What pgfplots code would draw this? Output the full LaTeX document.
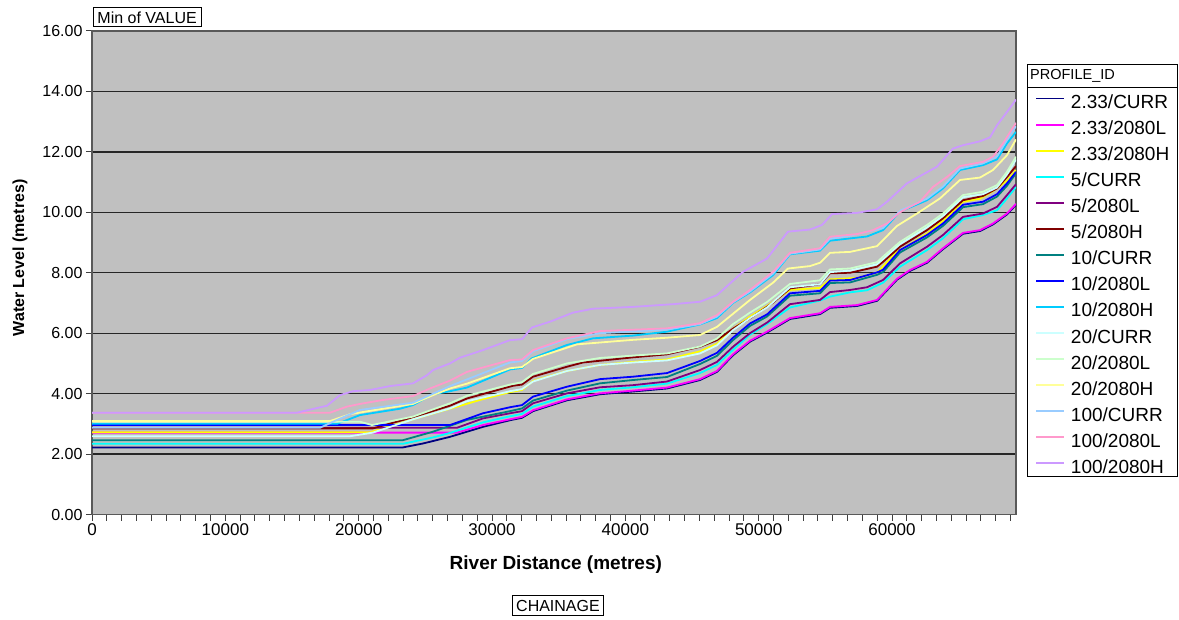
\documentclass[border=0pt]{standalone}
\usepackage{fontspec}
\setmainfont{Liberation Sans}
\usepackage{pgfplots}
\pgfplotsset{compat=1.18}
\definecolor{bg}{HTML}{C0C0C0}
\definecolor{cA}{HTML}{000080}
\definecolor{cB}{HTML}{FF00FF}
\definecolor{cC}{HTML}{FFFF00}
\definecolor{cD}{HTML}{00FFFF}
\definecolor{cE}{HTML}{800080}
\definecolor{cF}{HTML}{800000}
\definecolor{cG}{HTML}{008080}
\definecolor{cH}{HTML}{0000FF}
\definecolor{cI}{HTML}{00CCFF}
\definecolor{cJ}{HTML}{CCFFFF}
\definecolor{cK}{HTML}{CCFFCC}
\definecolor{cL}{HTML}{FFFF99}
\definecolor{cM}{HTML}{99CCFF}
\definecolor{cN}{HTML}{FF99CC}
\definecolor{cO}{HTML}{CC99FF}
\begin{document}
\begin{tikzpicture}[x=1pt,y=1pt]
\path[use as bounding box] (0,0) rectangle (1179,619);
\begin{axis}[
  scale only axis, width=924pt, height=483.5pt,
  at={(92pt,104.5pt)}, anchor=south west,
  xmin=0, xmax=69300, ymin=0, ymax=16,
  axis background/.style={fill=bg},
  axis line style={draw=black!65, line width=1.2pt},
  ytick={0,2,...,16}, ymajorgrids,
  grid style={black!85, line width=1.3pt},
  xtick={0,10000,20000,30000,40000,50000,60000},
  minor xtick={0,1111.11,...,69300},
  scaled x ticks=false,
  tick align=outside, tick pos=left,
  major tick length=6pt, minor tick length=6pt,
  tick style={black!75, line width=1pt},
  /pgf/number format/assume math mode=true,
  /pgf/number format/1000 sep={},
  yticklabel style={font=\fontsize{16}{19}\selectfont, /pgf/number format/.cd, fixed, fixed zerofill, precision=2},
  xticklabel style={font=\fontsize{17}{20}\selectfont, /pgf/number format/.cd, fixed, precision=0, 1000 sep={}},
  xlabel={River Distance (metres)},
  ylabel={Water Level (metres)},
  xlabel style={at={(axis description cs:0.502,-0.1044)}, anchor=center, font=\bfseries\fontsize{19}{22}\selectfont},
  ylabel style={at={(axis description cs:-0.0779,0.5305)}, anchor=center, rotate=0, font=\bfseries\fontsize{16}{19}\selectfont},
  every axis plot/.append style={line width=1.8pt, line join=round},
  no markers,
  legend image code/.code={\draw[#1] (0pt,5pt) -- (28pt,5pt);},
  legend style={at={(axis description cs:1.02056,0.8689)}, anchor=north west,
    draw=none, fill=none, inner xsep=0pt, inner ysep=0pt, row sep=8.05pt, column sep=6pt,
    font=\fontsize{19}{22}\selectfont,
    nodes={inner sep=0pt, text height=14pt, text depth=4pt}},
  legend cell align=left,
]
\addplot[cA] coordinates {(0,2.22) (23325,2.22) (24825,2.35) (26850,2.57) (29325,2.90) (31350,3.12) (32250,3.20) (33075,3.42) (35625,3.78) (38100,3.98) (40575,4.07) (43125,4.17) (45600,4.45) (46875,4.72) (48075,5.27) (49350,5.72) (50625,6.02) (52350,6.47) (54600,6.63) (55350,6.84) (57375,6.90) (58875,7.07) (60375,7.77) (61350,8.06) (62625,8.33) (63825,8.78) (65325,9.29) (66600,9.38) (67575,9.60) (68625,9.93) (69300,10.25)};
\addlegendentry{2.33/CURR}
\addplot[cB] coordinates {(0,2.71) (27375,2.71) (29325,2.96) (31350,3.15) (32250,3.23) (33075,3.45) (35625,3.81) (38100,4.01) (40575,4.10) (43125,4.20) (45600,4.48) (46875,4.75) (48075,5.30) (49350,5.75) (50625,6.05) (52350,6.50) (54600,6.66) (55350,6.87) (57375,6.93) (58875,7.10) (60375,7.80) (61350,8.09) (62625,8.36) (63825,8.81) (65325,9.32) (66600,9.41) (67575,9.63) (68625,9.96) (69300,10.28)};
\addlegendentry{2.33/2080L}
\addplot[cC] coordinates {(0,2.72) (20850,2.72) (24075,3.15) (26850,3.50) (29325,3.82) (31350,4.05) (32250,4.12) (33075,4.42) (35625,4.75) (38100,4.95) (40575,5.05) (43125,5.13) (45600,5.40) (46875,5.65) (48075,6.15) (49350,6.55) (50625,6.90) (52350,7.43) (54600,7.50) (55350,7.78) (57375,7.83) (58875,8.00) (60375,8.70) (61350,8.95) (62625,9.30) (63825,9.72) (65325,10.35) (66600,10.45) (67575,10.70) (68625,11.05) (69300,11.40)};
\addlegendentry{2.33/2080H}
\addplot[cD] coordinates {(0,2.34) (23325,2.34) (25575,2.55) (26850,2.70) (29325,3.05) (31350,3.25) (32250,3.33) (33075,3.57) (35625,3.92) (38100,4.12) (40575,4.21) (43125,4.33) (45600,4.68) (46875,4.95) (48075,5.45) (49350,5.95) (50625,6.30) (52350,6.85) (54600,7.08) (55350,7.21) (56850,7.35) (58125,7.42) (59325,7.67) (60600,8.20) (62625,8.75) (63825,9.14) (65325,9.77) (66825,9.91) (67875,10.07) (68625,10.46) (69300,10.84)};
\addlegendentry{5/CURR}
\addplot[cE] coordinates {(0,2.87) (27375,2.87) (29325,3.18) (31350,3.35) (32250,3.42) (33075,3.68) (35625,4.01) (38100,4.21) (40575,4.28) (43125,4.40) (45600,4.78) (46875,5.05) (48075,5.55) (49350,6.00) (50625,6.35) (52350,6.96) (54600,7.10) (55350,7.36) (56850,7.43) (58125,7.52) (59325,7.76) (60600,8.31) (62625,8.86) (63825,9.25) (65325,9.85) (66825,9.96) (67875,10.18) (68625,10.57) (69300,10.93)};
\addlegendentry{5/2080L}
\addplot[cF] coordinates {(0,2.85) (21075,2.85) (24075,3.22) (26850,3.60) (28125,3.84) (31575,4.26) (32250,4.30) (33075,4.56) (35625,4.89) (36825,5.03) (40575,5.20) (43125,5.30) (45600,5.55) (46875,5.77) (48075,6.15) (49350,6.49) (51075,7.01) (52350,7.48) (54600,7.62) (55350,7.98) (56850,8.00) (58875,8.20) (59325,8.36) (60600,8.86) (62625,9.41) (63825,9.80) (65325,10.40) (66825,10.54) (67875,10.79) (68625,11.17) (69300,11.53)};
\addlegendentry{5/2080H}
\addplot[cG] coordinates {(0,2.46) (23325,2.46) (25575,2.74) (28125,3.13) (31350,3.42) (32250,3.51) (33075,3.77) (35625,4.10) (38100,4.34) (40575,4.45) (43125,4.55) (45600,4.98) (46875,5.25) (48075,5.77) (49350,6.24) (50625,6.55) (52350,7.24) (54600,7.32) (55350,7.66) (56850,7.68) (58875,7.93) (59325,8.02) (60600,8.67) (62625,9.17) (63825,9.55) (65325,10.17) (66825,10.27) (67875,10.52) (68625,10.88) (69300,11.29)};
\addlegendentry{10/CURR}
\addplot[cH] coordinates {(0,2.96) (26850,2.96) (29325,3.35) (31350,3.55) (32250,3.62) (33075,3.90) (35625,4.23) (38100,4.48) (40575,4.56) (43125,4.68) (45600,5.08) (46875,5.35) (48075,5.85) (49350,6.32) (50625,6.62) (52350,7.32) (54600,7.40) (55350,7.74) (56850,7.76) (58875,8.01) (59325,8.10) (60600,8.75) (62625,9.25) (63825,9.63) (65325,10.25) (66825,10.35) (67875,10.60) (68625,10.96) (69300,11.34)};
\addlegendentry{10/2080L}
\addplot[cI] coordinates {(0,3.00) (18375,3.00) (20100,3.29) (23100,3.50) (24075,3.62) (25575,3.98) (26850,4.08) (28125,4.20) (31350,4.80) (32250,4.85) (33000,5.17) (35625,5.61) (37575,5.83) (40575,5.92) (43125,6.05) (45600,6.29) (46875,6.50) (48075,7.00) (49350,7.35) (51075,7.92) (52350,8.61) (54600,8.73) (55350,9.06) (58125,9.20) (59325,9.41) (60600,10.02) (62625,10.40) (63825,10.79) (65100,11.40) (66825,11.56) (67875,11.75) (68625,12.28) (69300,12.66)};
\addlegendentry{10/2080H}
\addplot[cJ] coordinates {(0,2.59) (19350,2.59) (21075,2.71) (24075,3.15) (26850,3.51) (28125,3.75) (31350,4.08) (32250,4.15) (33075,4.40) (35625,4.75) (38100,4.95) (40575,5.03) (43125,5.10) (45600,5.33) (46875,5.60) (48075,6.10) (49350,6.50) (50625,6.85) (52350,7.52) (54600,7.62) (55350,8.02) (56850,8.07) (58875,8.28) (59325,8.45) (60600,8.95) (62625,9.50) (63825,9.88) (65325,10.50) (66825,10.60) (67875,10.82) (68625,11.25) (69300,11.75)};
\addlegendentry{20/CURR}
\addplot[cK] coordinates {(0,3.07) (20100,3.07) (21000,2.96) (24075,3.24) (26850,3.68) (28125,3.93) (31350,4.30) (32250,4.38) (33075,4.65) (35625,5.00) (38100,5.18) (40575,5.26) (43125,5.33) (45600,5.56) (46875,5.82) (48075,6.30) (49350,6.68) (50625,7.03) (52350,7.63) (54600,7.75) (55350,8.11) (56850,8.14) (58875,8.35) (59325,8.53) (60600,9.02) (62625,9.58) (63825,9.96) (65325,10.57) (66825,10.68) (67875,10.90) (68625,11.34) (69300,11.84)};
\addlegendentry{20/2080L}
\addplot[cL] coordinates {(0,3.09) (17850,3.09) (19350,3.32) (20850,3.43) (24075,3.66) (25575,3.95) (26850,4.17) (28125,4.33) (31350,4.84) (32250,4.88) (33075,5.15) (36375,5.63) (40575,5.78) (43125,5.85) (45600,5.94) (46875,6.21) (49350,7.10) (51075,7.67) (52200,8.14) (53850,8.22) (54600,8.33) (55350,8.66) (56850,8.69) (58875,8.88) (60375,9.55) (61875,9.96) (63600,10.46) (65100,11.07) (66600,11.15) (67575,11.40) (68625,11.89) (69300,12.41)};
\addlegendentry{20/2080H}
\addplot[cM] coordinates {(0,2.87) (17100,2.87) (18375,3.13) (20100,3.46) (24075,3.70) (26850,4.25) (31350,5.03) (32250,5.08) (33075,5.40) (35625,5.80) (38100,6.00) (43125,6.12) (45600,6.30) (46875,6.55) (48075,7.02) (49350,7.38) (51075,7.97) (52350,8.63) (54600,8.77) (55350,9.13) (56850,9.22) (59325,9.48) (60600,10.05) (62625,10.45) (63825,10.85) (65100,11.45) (66825,11.62) (67875,11.85) (68625,12.40) (69300,12.85)};
\addlegendentry{100/CURR}
\addplot[cN] coordinates {(0,3.37) (17850,3.37) (19125,3.57) (20100,3.66) (21825,3.79) (24075,3.92) (25350,4.17) (26850,4.43) (28125,4.72) (31350,5.11) (32250,5.13) (33075,5.44) (35625,5.83) (38100,6.07) (43125,6.16) (45600,6.33) (46875,6.60) (48075,7.04) (49350,7.43) (51075,8.03) (52350,8.66) (54600,8.81) (55350,9.19) (57375,9.28) (58575,9.41) (59625,9.63) (60600,10.00) (61125,10.13) (62100,10.35) (63075,10.84) (64125,11.17) (65100,11.53) (66825,11.67) (67575,11.84) (68325,12.28) (69300,12.96)};
\addlegendentry{100/2080L}
\addplot[cO] coordinates {(0,3.37) (15375,3.37) (17625,3.60) (18600,3.95) (19575,4.08) (20850,4.12) (22350,4.25) (24075,4.34) (25125,4.61) (25575,4.78) (26850,5.00) (27600,5.19) (29325,5.44) (31350,5.77) (32250,5.80) (33000,6.19) (34350,6.38) (36075,6.68) (37575,6.81) (40575,6.87) (43575,6.96) (45600,7.04) (46875,7.26) (48825,8.03) (50625,8.47) (52200,9.36) (53850,9.43) (54750,9.58) (55500,9.94) (57375,9.98) (58875,10.10) (59625,10.35) (61125,10.96) (63375,11.51) (64575,12.11) (65325,12.22) (66600,12.35) (67350,12.48) (67875,12.88) (68625,13.32) (69300,13.73)};
\addlegendentry{100/2080H}
\end{axis}
\draw[line width=0.9pt] (1027,143) rectangle (1177,555);
\draw[line width=0.9pt] (1027,532) -- (1177,532);
\node[anchor=west, inner sep=0pt, font=\fontsize{14.5}{17}\selectfont] at (1030,543.5) {PROFILE\_ID};
\node[draw, line width=0.8pt, anchor=south west, inner sep=0pt, minimum width=108pt, minimum height=19pt, font=\fontsize{16}{19}\selectfont] at (92.7,591.7) {Min of VALUE};
\node[draw, line width=0.8pt, inner sep=0pt, minimum width=91pt, minimum height=20pt, font=\fontsize{16}{19}\selectfont] at (558,13.5) {CHAINAGE};
\end{tikzpicture}
\end{document}
